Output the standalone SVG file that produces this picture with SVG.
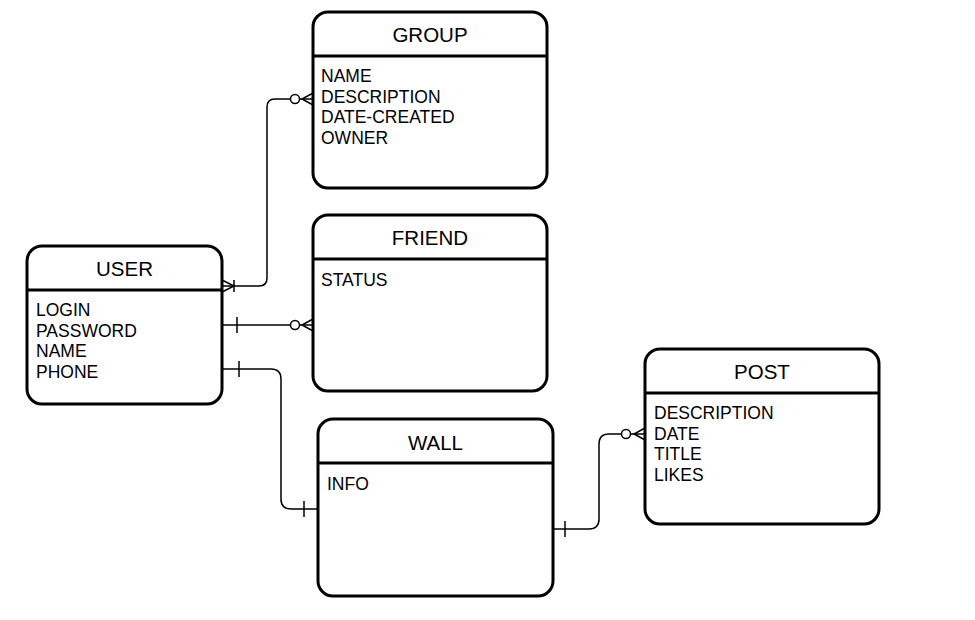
<svg xmlns="http://www.w3.org/2000/svg" width="975" height="620" viewBox="0 0 975 620">
<style>
.box{fill:#fff;stroke:#000;stroke-width:3}
.sep{stroke:#000;stroke-width:3}
.title{font-family:"Liberation Sans",Arial,sans-serif;font-size:20.5px;text-anchor:middle;fill:#000}
.attr{font-family:"Liberation Sans",Arial,sans-serif;font-size:17.5px;fill:#000}
.conn{fill:none;stroke:#000;stroke-width:1.5}
.circ{fill:#fff;stroke:#000;stroke-width:1.5}
</style>
<rect width="975" height="620" fill="#fff"/>
<g id="edges">
  <!-- USER - GROUP -->
  <path class="conn" d="M222,286 H259 Q267,286 267,278 V107 Q267,99 275,99 H313"/>
  <path class="conn" d="M222,280 L234,286 L222,292 M234,280 V292"/>
  <circle class="circ" cx="295" cy="99" r="4.5"/>
  <path class="conn" d="M313,93 L302,99 L313,105"/>
  <!-- USER - FRIEND -->
  <path class="conn" d="M222,325 H313"/>
  <path class="conn" d="M237,317 V333"/>
  <circle class="circ" cx="295" cy="325" r="4.5"/>
  <path class="conn" d="M313,319 L302,325 L313,331"/>
  <!-- USER - WALL -->
  <path class="conn" d="M222,369 H271 Q281,369 281,379 V499 Q281,509 291,509 H318"/>
  <path class="conn" d="M239,361 V377"/>
  <path class="conn" d="M304,501 V517"/>
  <!-- WALL - POST -->
  <path class="conn" d="M553,529 H589 Q599,529 599,519 V444 Q599,434 609,434 H645"/>
  <path class="conn" d="M565,521 V537"/>
  <circle class="circ" cx="626" cy="434" r="4.5"/>
  <path class="conn" d="M645,428 L634,434 L645,440"/>
</g>
<g id="group">
  <rect class="box" x="313" y="12" width="234" height="176" rx="15"/>
  <line class="sep" x1="313" y1="56" x2="547" y2="56"/>
  <text class="title" x="430" y="42">GROUP</text>
  <text class="attr" x="321" y="82">NAME</text>
  <text class="attr" x="321" y="102.5">DESCRIPTION</text>
  <text class="attr" x="321" y="123">DATE-CREATED</text>
  <text class="attr" x="321" y="143.5">OWNER</text>
</g>
<g id="friend">
  <rect class="box" x="313" y="215" width="234" height="176" rx="15"/>
  <line class="sep" x1="313" y1="259" x2="547" y2="259"/>
  <text class="title" x="430" y="245">FRIEND</text>
  <text class="attr" x="321" y="286">STATUS</text>
</g>
<g id="user">
  <rect class="box" x="27" y="246" width="195" height="158" rx="15"/>
  <line class="sep" x1="27" y1="290" x2="222" y2="290"/>
  <text class="title" x="124.5" y="276">USER</text>
  <text class="attr" x="36" y="316">LOGIN</text>
  <text class="attr" x="36" y="336.5">PASSWORD</text>
  <text class="attr" x="36" y="357">NAME</text>
  <text class="attr" x="36" y="377.5">PHONE</text>
</g>
<g id="wall">
  <rect class="box" x="318" y="419" width="235" height="177" rx="15"/>
  <line class="sep" x1="318" y1="463" x2="553" y2="463"/>
  <text class="title" x="435.5" y="450">WALL</text>
  <text class="attr" x="327" y="490">INFO</text>
</g>
<g id="post">
  <rect class="box" x="645" y="349" width="234" height="175" rx="15"/>
  <line class="sep" x1="645" y1="393" x2="879" y2="393"/>
  <text class="title" x="762" y="379">POST</text>
  <text class="attr" x="654" y="419">DESCRIPTION</text>
  <text class="attr" x="654" y="440">DATE</text>
  <text class="attr" x="654" y="460">TITLE</text>
  <text class="attr" x="654" y="481">LIKES</text>
</g>
</svg>
